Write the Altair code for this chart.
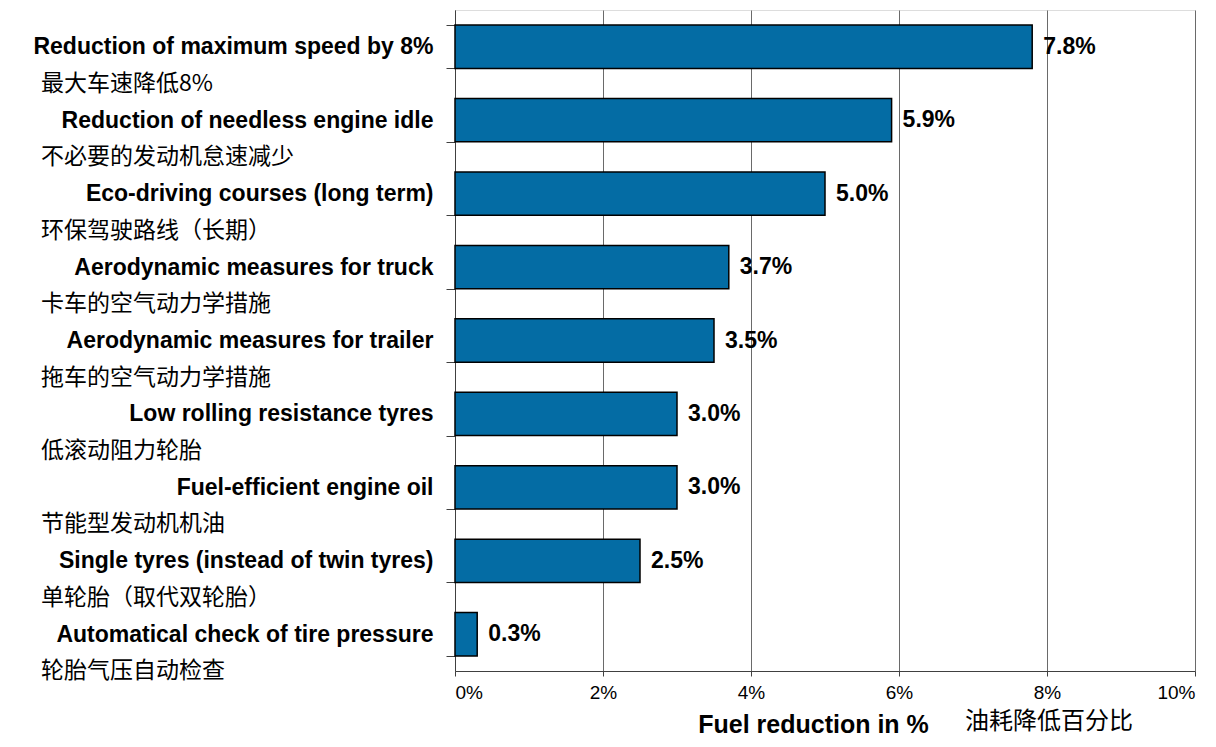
import altair as alt
import pandas as pd

# ---- data ----
categories_en = [
    "Reduction of maximum speed by 8%",
    "Reduction of needless engine idle",
    "Eco-driving courses (long term)",
    "Aerodynamic measures for truck",
    "Aerodynamic measures for trailer",
    "Low rolling resistance tyres",
    "Fuel-efficient engine oil",
    "Single tyres (instead of twin tyres)",
    "Automatical check of tire pressure",
]
categories_zh = [
    "最大车速降低8%",
    "不必要的发动机怠速减少",
    "环保驾驶路线（长期）",
    "卡车的空气动力学措施",
    "拖车的空气动力学措施",
    "低滚动阻力轮胎",
    "节能型发动机机油",
    "单轮胎（取代双轮胎）",
    "轮胎气压自动检查",
]
reduction = [0.078, 0.059, 0.050, 0.037, 0.035, 0.030, 0.030, 0.025, 0.003]
x_ticks = [0, 0.02, 0.04, 0.06, 0.08, 0.10]

df = pd.DataFrame({"cat": categories_en, "zh": categories_zh, "val": reduction})

BLUE = "#046CA4"
EN_FONT = "Liberation Sans"
ZH_FONT = "Noto Sans CJK SC"

y_enc = alt.Y(
    "cat:N",
    sort=categories_en,
    scale=alt.Scale(paddingInner=0.41, paddingOuter=0.205),
    axis=alt.Axis(
        title=None,
        tickBand="extent",
        tickSize=9,
        tickColor="#404040",
        domainColor="#404040",
        labelFont=EN_FONT,
        labelFontSize=23,
        labelFontWeight="bold",
        labelColor="black",
        labelPadding=13,
        labelLimit=500,
    ),
)

x_enc = alt.X(
    "val:Q",
    scale=alt.Scale(domain=[0, 0.10], nice=False),
    axis=alt.Axis(
        values=x_ticks,
        format=".0%",
        grid=True,
        gridColor="#6a6a6a",
        tickSize=5,
        tickColor="#404040",
        domainColor="#404040",
        labelFont=EN_FONT,
        labelFontSize=19,
        labelColor="black",
        labelPadding=7,
        title="Fuel reduction in %",
        titleFont=EN_FONT,
        titleFontSize=25,
        titleFontWeight="bold",
        titleColor="black",
        titleX=358,
        titleY=53,
        titleAlign="center",
        titleBaseline="middle",
    ),
)

base = alt.Chart(df)

bars = base.mark_bar(fill=BLUE, stroke="black", strokeWidth=1.5).encode(x=x_enc, y=y_enc)

values = base.mark_text(
    align="left", baseline="middle", dx=11, font=EN_FONT, fontSize=23,
    fontWeight="bold", color="black",
).encode(x="val:Q", y=alt.Y("cat:N", sort=categories_en), text=alt.Text("val:Q", format=".1%"))

zh_labels = base.mark_text(
    align="left", baseline="middle", dy=37, font=ZH_FONT, fontSize=23, color="black",
).encode(x=alt.value(-414), y=alt.Y("cat:N", sort=categories_en), text="zh:N")

zh_title = alt.Chart(pd.DataFrame({"t": ["油耗降低百分比"]})).mark_text(
    align="left", baseline="middle", font=ZH_FONT, fontSize=24, color="black",
).encode(x=alt.value(510), y=alt.value(712), text="t:N")

chart = (
    alt.layer(bars, values, zh_labels, zh_title)
    .properties(
        width=740,
        height=661,
        autosize=alt.AutoSizeParams(type="none"),
        padding={"left": 447, "top": 2, "right": 13, "bottom": 68},
    )
    .configure_view(stroke="#8a8a8a", strokeWidth=1)
    .configure(background="white")
)

chart.save("out.html", embed_options={"renderer": "svg", "actions": False})
